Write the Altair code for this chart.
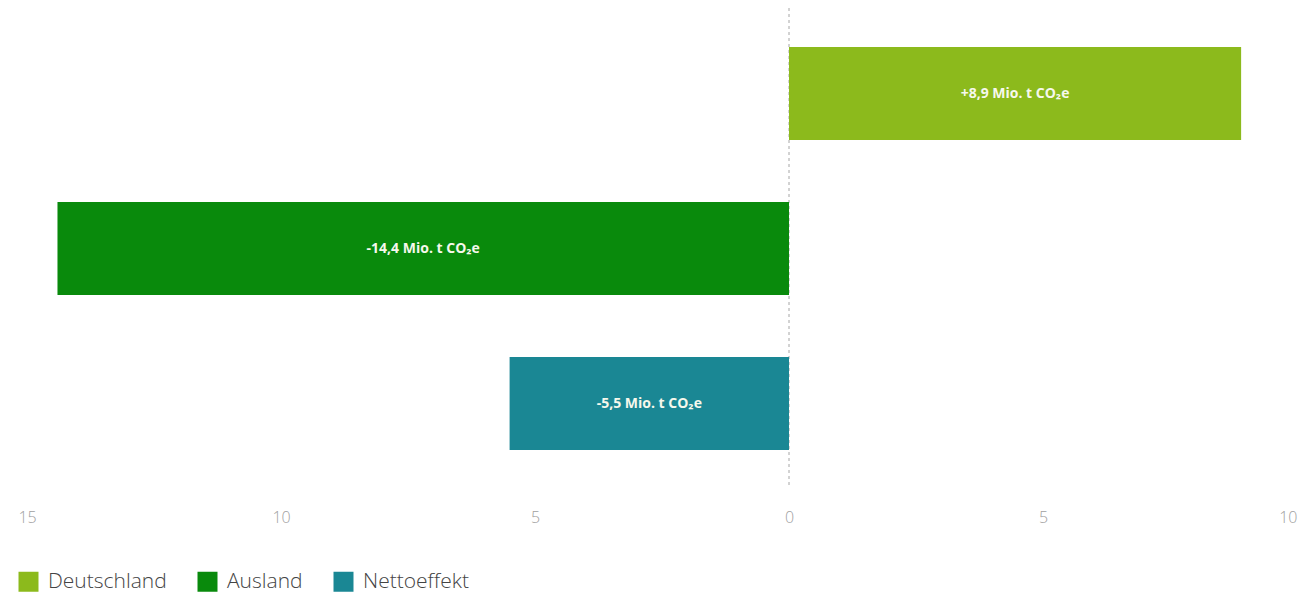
import altair as alt
import pandas as pd

categories = ["Deutschland", "Ausland", "Nettoeffekt"]
values = [8.9, -14.4, -5.5]
labels = ["+8,9 Mio. t CO₂e", "-14,4 Mio. t CO₂e", "-5,5 Mio. t CO₂e"]
colors = ["#8cba1c", "#098a0c", "#1a8794"]
tick_values = [-15, -10, -5, 0, 5, 10]

df = pd.DataFrame({"kategorie": categories, "wert": values, "label": labels})

x_scale = alt.Scale(domain=[-15, 10], nice=False, zero=True)
y_scale = alt.Scale(domain=categories, paddingInner=0.4, paddingOuter=0.2)

base = alt.Chart(df)

bars = base.mark_bar(cornerRadius=0).encode(
    y=alt.Y("kategorie:N", scale=y_scale, axis=None, sort=categories),
    x=alt.X(
        "wert:Q",
        scale=x_scale,
        axis=alt.Axis(
            values=tick_values,
            labelExpr="abs(datum.value)",
            title=None,
            domain=False,
            ticks=False,
            grid=False,
            labelFlush=False,
            labelOverlap=False,
            labelAlign=alt.ExprRef(expr="datum.value == 10 ? 'right' : 'center'"),
            labelFont="Open Sans",
            labelFontSize=16,
            labelFontWeight=300,
            labelColor="#a0a0a0",
            labelPadding=28,
        ),
    ),
    x2=alt.datum(0),
    color=alt.Color(
        "kategorie:N",
        scale=alt.Scale(domain=categories, range=colors),
        legend=alt.Legend(
            title=None,
            orient="none",
            direction="horizontal",
            legendX=-9,
            legendY=555,
            symbolType="square",
            symbolSize=400,
            symbolStrokeWidth=0,
            symbolOpacity=1,
            labelFont="Open Sans",
            labelFontSize=21,
            labelFontWeight=300,
            labelColor="#444444",
            labelOffset=9,
            columnPadding=30,
        ),
    ),
)

zero_line = base.mark_rule(color="#cccccc", strokeDash=[3, 3], strokeWidth=1).encode(
    x=alt.datum(0, scale=x_scale),
    y=alt.value(-8),
    y2=alt.value(472),
)

text = base.transform_calculate(mid="datum.wert / 2").mark_text(
    font="Open Sans",
    fontSize=14,
    fontWeight="bold",
    color="#f6f8ec",
    align="center",
    baseline="middle",
).encode(
    y=alt.Y("kategorie:N", scale=y_scale, axis=None, sort=categories),
    x=alt.X("mid:Q", scale=x_scale),
    text="label:N",
)

chart = (
    alt.layer(zero_line, bars, text)
    .properties(
        width=1270,
        height=465,
        autosize=alt.AutoSizeParams(type="none"),
        padding={"left": 19, "right": 3, "top": 8, "bottom": 115},
    )
    .configure(background="white")
    .configure_view(strokeWidth=0, stroke="transparent")
)

chart.save("out.html", embed_options={"renderer": "svg", "actions": False})
